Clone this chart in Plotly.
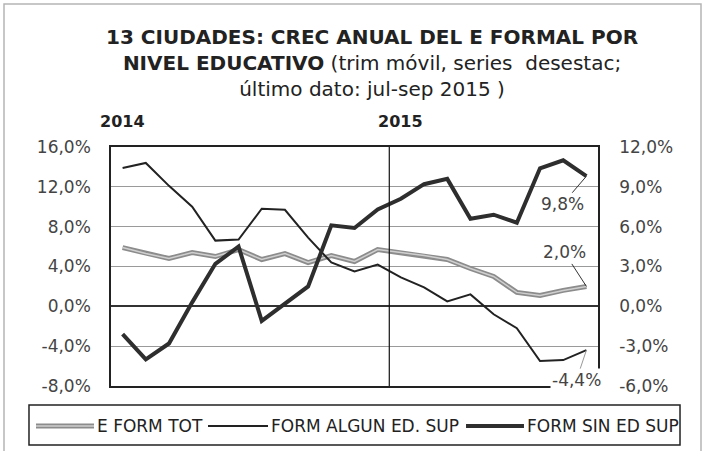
import plotly.graph_objects as go

months = ["ene-14", "feb-14", "mar-14", "abr-14", "may-14", "jun-14", "jul-14",
          "ago-14", "sep-14", "oct-14", "nov-14", "dic-14",
          "ene-15", "feb-15", "mar-15", "abr-15", "may-15", "jun-15", "jul-15",
          "ago-15", "sep-15"]

e_form_tot = [5.9, 5.3, 4.8, 5.4, 5.0, 5.7, 4.7, 5.3, 4.4, 5.1, 4.5, 5.7,
              5.4, 5.1, 4.7, 3.8, 3.0, 1.4, 1.1, 1.6, 2.0]
form_algun_ed_sup = [13.9, 14.4, 12.1, 10.0, 6.6, 6.7, 9.8, 9.7, 6.9, 4.4, 3.5, 4.2,
                     2.9, 1.9, 0.5, 1.2, -0.8, -2.2, -5.5, -5.4, -4.4]
form_sin_ed_sup = [-2.1, -4.0, -2.8, 0.3, 3.2, 4.5, -1.1, 0.2, 1.5, 6.1, 5.9, 7.3,
                   8.1, 9.2, 9.6, 6.6, 6.9, 6.3, 10.4, 11.0, 9.8]

series_names = ["E FORM TOT", "FORM ALGUN ED. SUP", "FORM SIN ED SUP"]

left_ticks = [-8, -4, 0, 4, 8, 12, 16]
left_ticktext = ["-8,0%", "-4,0%", "0,0%", "4,0%", "8,0%", "12,0%", "16,0%"]
right_ticks = [-6, -3, 0, 3, 6, 9, 12]
right_ticktext = ["-6,0%", "-3,0%", "0,0%", "3,0%", "6,0%", "9,0%", "12,0%"]

year_labels = ["2014", "2015"]
year_starts = ["ene-14", "ene-15"]

FONT = "DejaVu Sans"

styles = [dict(color="#8c8c8c", width=5),
          dict(color="#222222", width=2),
          dict(color="#2e2e2e", width=4)]


def pct(v):
    return f"{v:.1f}%".replace(".", ",")


fig = go.Figure()
fig.add_trace(go.Scatter(x=months, y=e_form_tot, mode="lines", name=series_names[0],
                         line=styles[0], yaxis="y"))
fig.add_trace(go.Scatter(x=months, y=e_form_tot, mode="lines", showlegend=False,
                         line=dict(color="#cfcfcf", width=1.5), yaxis="y", hoverinfo="skip"))
fig.add_trace(go.Scatter(x=months, y=form_algun_ed_sup, mode="lines", name=series_names[1],
                         line=styles[1], yaxis="y"))
fig.add_trace(go.Scatter(x=months, y=form_sin_ed_sup, mode="lines", name=series_names[2],
                         line=styles[2], yaxis="y2"))

annotations = []
for yr, xs in zip(year_labels, year_starts):
    annotations.append(dict(x=xs, y=1.105, xref="x", yref="paper", text=f"<b>{yr}</b>",
                            showarrow=False, font=dict(family=FONT, size=16, color="#222"),
                            xanchor="center", yanchor="middle"))

# end-point data labels with leader lines
annotations.append(dict(x=months[-1], y=form_sin_ed_sup[-1], xref="x", yref="y2",
                        text=pct(form_sin_ed_sup[-1]), showarrow=True, arrowhead=0,
                        arrowwidth=1, arrowcolor="#333", ax=-24, ay=28,
                        font=dict(family=FONT, size=17, color="#444"), bgcolor="white"))
annotations.append(dict(x=months[-1], y=e_form_tot[-1], xref="x", yref="y",
                        text=pct(e_form_tot[-1]), showarrow=True, arrowhead=0,
                        arrowwidth=1, arrowcolor="#333", ax=-22, ay=-34,
                        font=dict(family=FONT, size=17, color="#444"), bgcolor="white"))
annotations.append(dict(x=months[-1], y=form_algun_ed_sup[-1], xref="x", yref="y",
                        text=pct(form_algun_ed_sup[-1]), showarrow=True, arrowhead=0,
                        arrowwidth=1, arrowcolor="#999", ax=-10, ay=30,
                        font=dict(family=FONT, size=17, color="#444"), bgcolor="white"))

shapes = [
    # year separator
    dict(type="line", xref="x", yref="paper", x0=11.5, x1=11.5, y0=0, y1=1,
         line=dict(color="#111", width=1.2)),
    # outer chart border
    dict(type="rect", xref="paper", yref="paper", x0=-0.2197, x1=1.2115, y0=-0.30, y1=1.598,
         line=dict(color="#b5b5b5", width=1.5), layer="below"),
    # legend box
    dict(type="rect", xref="paper", yref="paper", x0=-0.1684, x1=1.1684, y0=-0.2469, y1=-0.0795,
         line=dict(color="#222", width=1.5), fillcolor="white"),
]

# legend entries (sample line + label)
legend_y = -0.1674
sample_x = [(-0.154, -0.0349), (0.1992, 0.3224), (0.729, 0.848)]
for name, st, (x0, x1) in zip(series_names, styles, sample_x):
    shapes.append(dict(type="line", xref="paper", yref="paper", x0=x0, x1=x1,
                       y0=legend_y, y1=legend_y, line=dict(color=st["color"], width=st["width"])))
    annotations.append(dict(x=x1 + 0.003, y=legend_y, xref="paper", yref="paper", text=name,
                            showarrow=False, xanchor="left", yanchor="middle",
                            font=dict(family=FONT, size=17, color="#222")))
shapes.append(dict(type="line", xref="paper", yref="paper", x0=sample_x[0][0], x1=sample_x[0][1],
                   y0=legend_y, y1=legend_y, line=dict(color="#cfcfcf", width=1.5)))

fig.update_layout(
    width=703, height=451,
    margin=dict(l=111, r=105, t=147, b=65),
    paper_bgcolor="white", plot_bgcolor="white",
    title=dict(
        text="<b>13 CIUDADES: CREC ANUAL DEL E FORMAL POR</b><br>"
             "<b>NIVEL EDUCATIVO</b> (trim móvil, series  desestac;<br>"
             "último dato: jul-sep 2015 )",
        x=0.536, xref="paper", xanchor="center",
        y=0.902, yref="container", yanchor="top",
        font=dict(family=FONT, size=20, color="#222"),
    ),
    xaxis=dict(type="category", showticklabels=False, ticks="", showgrid=False,
               showline=True, mirror=True, linecolor="#222", linewidth=1.5,
               zeroline=False, range=[-0.5, 20.5]),
    yaxis=dict(range=[-8, 16], tickvals=left_ticks, ticktext=left_ticktext,
               showline=True, linecolor="#222", linewidth=1.5,
               showgrid=True, gridcolor="#9a9a9a", gridwidth=1,
               zeroline=True, zerolinecolor="#333", zerolinewidth=1.5,
               ticks="", ticklabelstandoff=15,
               tickfont=dict(family=FONT, size=17, color="#444")),
    yaxis2=dict(range=[-6, 12], tickvals=right_ticks, ticktext=right_ticktext,
                overlaying="y", side="right", showgrid=False, zeroline=False,
                showline=True, linecolor="#222", linewidth=1.5,
                ticks="", ticklabelstandoff=16,
                tickfont=dict(family=FONT, size=17, color="#444")),
    annotations=annotations,
    shapes=shapes,
    showlegend=False,
)

fig.write_html("out.html", config={"displayModeBar": False},
               post_script="document.body.style.margin='0';")
